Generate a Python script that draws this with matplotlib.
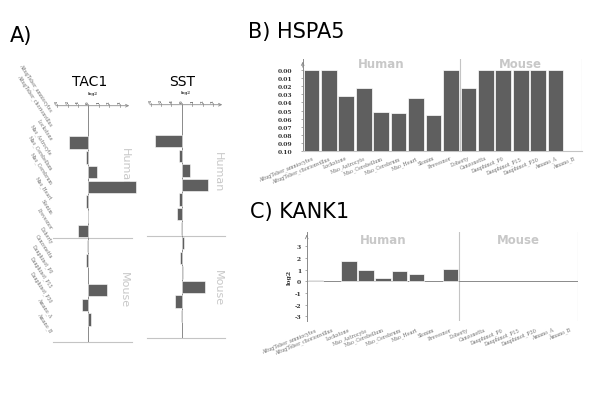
import numpy as np
import matplotlib
matplotlib.use("Agg")
import matplotlib.pyplot as plt
from matplotlib.transforms import blended_transform_factory

W, H = 600, 402

# ---------------- data ----------------
categories = ["AltugTeber_amniocytes", "AltugTeber_chorionvillus", "Lockstone",
              "Mao_Astrocyte", "Mao_Cerebellum", "Mao_Cerebrum", "Mao_Heart",
              "Slonim", "Prevesnor", "Doherty", "Canzonetta", "Dauphinot_P0",
              "Dauphinot_P15", "Dauphinot_P30", "Amano_A", "Amano_B"]
n_human = 9
groups = ["Human", "Mouse"]
nan = np.nan
tac1 = [nan, nan, -1.84, -0.26, 0.87, 4.6, -0.2, -0.08, -0.97,
        -0.1, -0.2, nan, 1.84, -0.58, 0.23, nan]
sst = [nan, nan, -2.58, -0.29, 0.74, 2.48, -0.23, -0.42, -0.08,
       0.23, -0.16, 0.1, 2.23, -0.61, -0.05, nan]
hspa5 = [0.0, 0.0, 0.032, 0.022, 0.052, 0.053, 0.035, 0.055, 0.0,
         0.022, 0.0, 0.0, 0.0, 0.0, 0.0, nan]
kank1 = [0.11, nan, 1.71, 1.0, 0.29, 0.89, 0.6, nan, 1.06,
         nan, nan, nan, nan, nan, nan, nan]
log2_ticks = [-3, -2, -1, 0, 1, 2, 3]
p_ticks = [0.00, 0.01, 0.02, 0.03, 0.04, 0.05, 0.06, 0.07, 0.08, 0.09, 0.10]
kank_ticks = [-3, -2, -1, 0, 1, 2, 3]

BAR = "#5f5f5f"
SEP = "#c4c4c4"
AXC = "#8a8a8a"
GRP = "#c8c8c8"
LBL = "#707070"

fig = plt.figure(figsize=(W / 100, H / 100), dpi=100)


def ax_px(x0, y0, x1, y1):
    return fig.add_axes([x0 / W, 1 - y1 / H, (x1 - x0) / W, (y1 - y0) / H])


def ftext(x, y, s, **kw):
    return fig.text(x / W, 1 - y / H, s, **kw)


n = len(categories)
idx = np.arange(n)

# ---------------- Panel A ----------------
ftext(10, 36, "A)", fontsize=15, va="center", ha="left")


def panel_a(x0, x1, y0, y1, xlim, vals, title, title_x, human_xy, mouse_xy, labels):
    ax = ax_px(x0, y0, x1, y1)
    ax.set_xlim(*xlim)
    ax.set_ylim(n - 0.5, -0.5)
    ax.axis("off")
    v = np.array(vals, dtype=float)
    m = ~np.isnan(v)
    ax.barh(idx[m], v[m], height=0.85, color=BAR, edgecolor="white",
            linewidth=0.4, clip_on=False, zorder=3)
    # zero line
    ax.plot([0, 0], [-0.5, n - 0.5], color=AXC, lw=0.7, zorder=2)
    # separators
    for yy in (n_human - 0.5, n - 0.5):
        ax.plot([xlim[0], xlim[1]], [yy, yy], color=SEP, lw=0.8, zorder=1,
                clip_on=False)
    # top axis with arrow
    ax.annotate("", xy=(xlim[1], -0.5), xytext=(xlim[0], -0.5),
                arrowprops=dict(arrowstyle="->", color=AXC, lw=0.6,
                                mutation_scale=5),
                annotation_clip=False)
    for t in log2_ticks:
        ax.plot([t, t], [-0.6, -0.4], color=AXC, lw=0.5, clip_on=False)
        ax.text(t, -0.68, str(t), fontsize=2.6, rotation=90, ha="center",
                va="bottom", color="#555555", family="DejaVu Serif",
                fontweight="bold", clip_on=False)
    ax.text(0.4, -1.2, "log2", fontsize=3.0, ha="center", va="bottom",
            color="#444444", family="DejaVu Serif", fontweight="bold",
            clip_on=False)
    ftext(title_x, 82, title, fontsize=10, ha="center", va="center")
    tf = fig.transFigure
    ax.text(human_xy[0] / W, 1 - human_xy[1] / H, groups[0], fontsize=8,
            rotation=-90, ha="center", va="center", color=GRP, zorder=2,
            transform=tf, clip_on=False)
    ax.text(mouse_xy[0] / W, 1 - mouse_xy[1] / H, groups[1], fontsize=8,
            rotation=-90, ha="center", va="center", color=GRP, zorder=2,
            transform=tf, clip_on=False)
    if labels:
        tr = blended_transform_factory(fig.transFigure, ax.transData)
        for i, c in enumerate(categories):
            ax.text(51 / W, i - 0.2, c, transform=tr, fontsize=3.3,
                    rotation=-57, rotation_mode="anchor", ha="right",
                    va="center", color=LBL, family="DejaVu Serif",
                    clip_on=False)
    return ax


panel_a(53, 132, 106.7, 342.7, (-3.4, 4.2), tac1, "TAC1", 90,
        (125, 168), (124, 290), True)
panel_a(147, 225, 105.7, 339, (-3.35, 4.15), sst, "SST", 182,
        (218, 172), (218, 288), False)

# ---------------- Panel B: HSPA5 ----------------
ftext(248, 32, "B) HSPA5", fontsize=15, ha="left", va="center")
axb = ax_px(302.7, 60, 581.7, 152)
axb.set_xlim(-0.5, n - 0.5)
axb.set_ylim(0.10, -0.0136)
hv = np.array(hspa5, dtype=float)
m = ~np.isnan(hv)
axb.bar(idx[m], 0.10 - hv[m], bottom=hv[m], width=0.9, color=BAR,
        edgecolor="white", linewidth=0.5, zorder=3)
for s in ("top", "right"):
    axb.spines[s].set_visible(False)
axb.spines["left"].set_color(AXC)
axb.spines["left"].set_linewidth(0.7)
axb.spines["bottom"].set_color(SEP)
axb.spines["bottom"].set_linewidth(0.8)
axb.annotate("", xy=(-0.5, -0.0136), xytext=(-0.5, 0.0),
             arrowprops=dict(arrowstyle="->", color=AXC, lw=0.6,
                             mutation_scale=5), annotation_clip=False)
axb.axvline(n_human - 0.5, color=SEP, lw=0.8, zorder=1)
axb.axvline(n - 0.5, color=SEP, lw=0.8, zorder=1)
axb.set_yticks(p_ticks)
axb.set_yticklabels([f"{t:.2f}" for t in p_ticks], fontsize=4.3,
                    family="DejaVu Serif", fontweight="bold", color="#333333")
axb.tick_params(axis="y", length=1.5, width=0.5, pad=6, color=AXC)
axb.set_xticks(idx)
axb.set_xticklabels(categories, rotation=22, ha="right",
                    rotation_mode="anchor", fontsize=3.5,
                    family="DejaVu Serif", color=LBL)
axb.tick_params(axis="x", length=0, pad=3)
axb.text((n_human - 1) / 2, -0.0075, groups[0], ha="center", va="center",
         fontsize=8.5, fontweight="bold", color=GRP)
axb.text((n_human + n - 1) / 2, -0.0075, groups[1], ha="center",
         va="center", fontsize=8.5, fontweight="bold", color=GRP)

# ---------------- Panel C: KANK1 ----------------
ftext(250, 212, "C) KANK1", fontsize=15, ha="left", va="center")
axc = ax_px(306.7, 233.3, 577.7, 322)
axc.set_xlim(-0.5, n - 0.5)
axc.set_ylim(-3.4, 4.2)
kv = np.array(kank1, dtype=float)
m = ~np.isnan(kv)
axc.bar(idx[m], kv[m], width=0.9, color=BAR, edgecolor="white",
        linewidth=0.5, zorder=3)
for s in ("top", "right", "bottom"):
    axc.spines[s].set_visible(False)
axc.spines["left"].set_color(AXC)
axc.spines["left"].set_linewidth(0.7)
axc.annotate("", xy=(-0.5, 4.2), xytext=(-0.5, 3.6),
             arrowprops=dict(arrowstyle="->", color=AXC, lw=0.6,
                             mutation_scale=5), annotation_clip=False)
axc.axhline(0, color=AXC, lw=0.7, zorder=2)
axc.axvline(n_human - 0.5, color=SEP, lw=0.8, zorder=1)
axc.axvline(n - 0.5, color=SEP, lw=0.8, zorder=1)
axc.set_yticks(kank_ticks)
axc.set_yticklabels([str(t) for t in kank_ticks], fontsize=4.3,
                    family="DejaVu Serif", fontweight="bold", color="#333333")
axc.tick_params(axis="y", length=1.5, width=0.5, pad=2.5, color=AXC)
axc.set_ylabel("log2", fontsize=4.5, family="DejaVu Serif",
               fontweight="bold", color="#333333", labelpad=2)
axc.set_xticks(idx)
axc.set_xticklabels(categories, rotation=22, ha="right",
                    rotation_mode="anchor", fontsize=3.5,
                    family="DejaVu Serif", color=LBL)
axc.tick_params(axis="x", length=0, pad=4)
axc.text((n_human - 1) / 2, 3.6, groups[0], ha="center", va="center",
         fontsize=8.5, fontweight="bold", color=GRP)
axc.text((n_human + n - 1) / 2, 3.6, groups[1], ha="center", va="center",
         fontsize=8.5, fontweight="bold", color=GRP)

fig.savefig("out.png", dpi=100)
